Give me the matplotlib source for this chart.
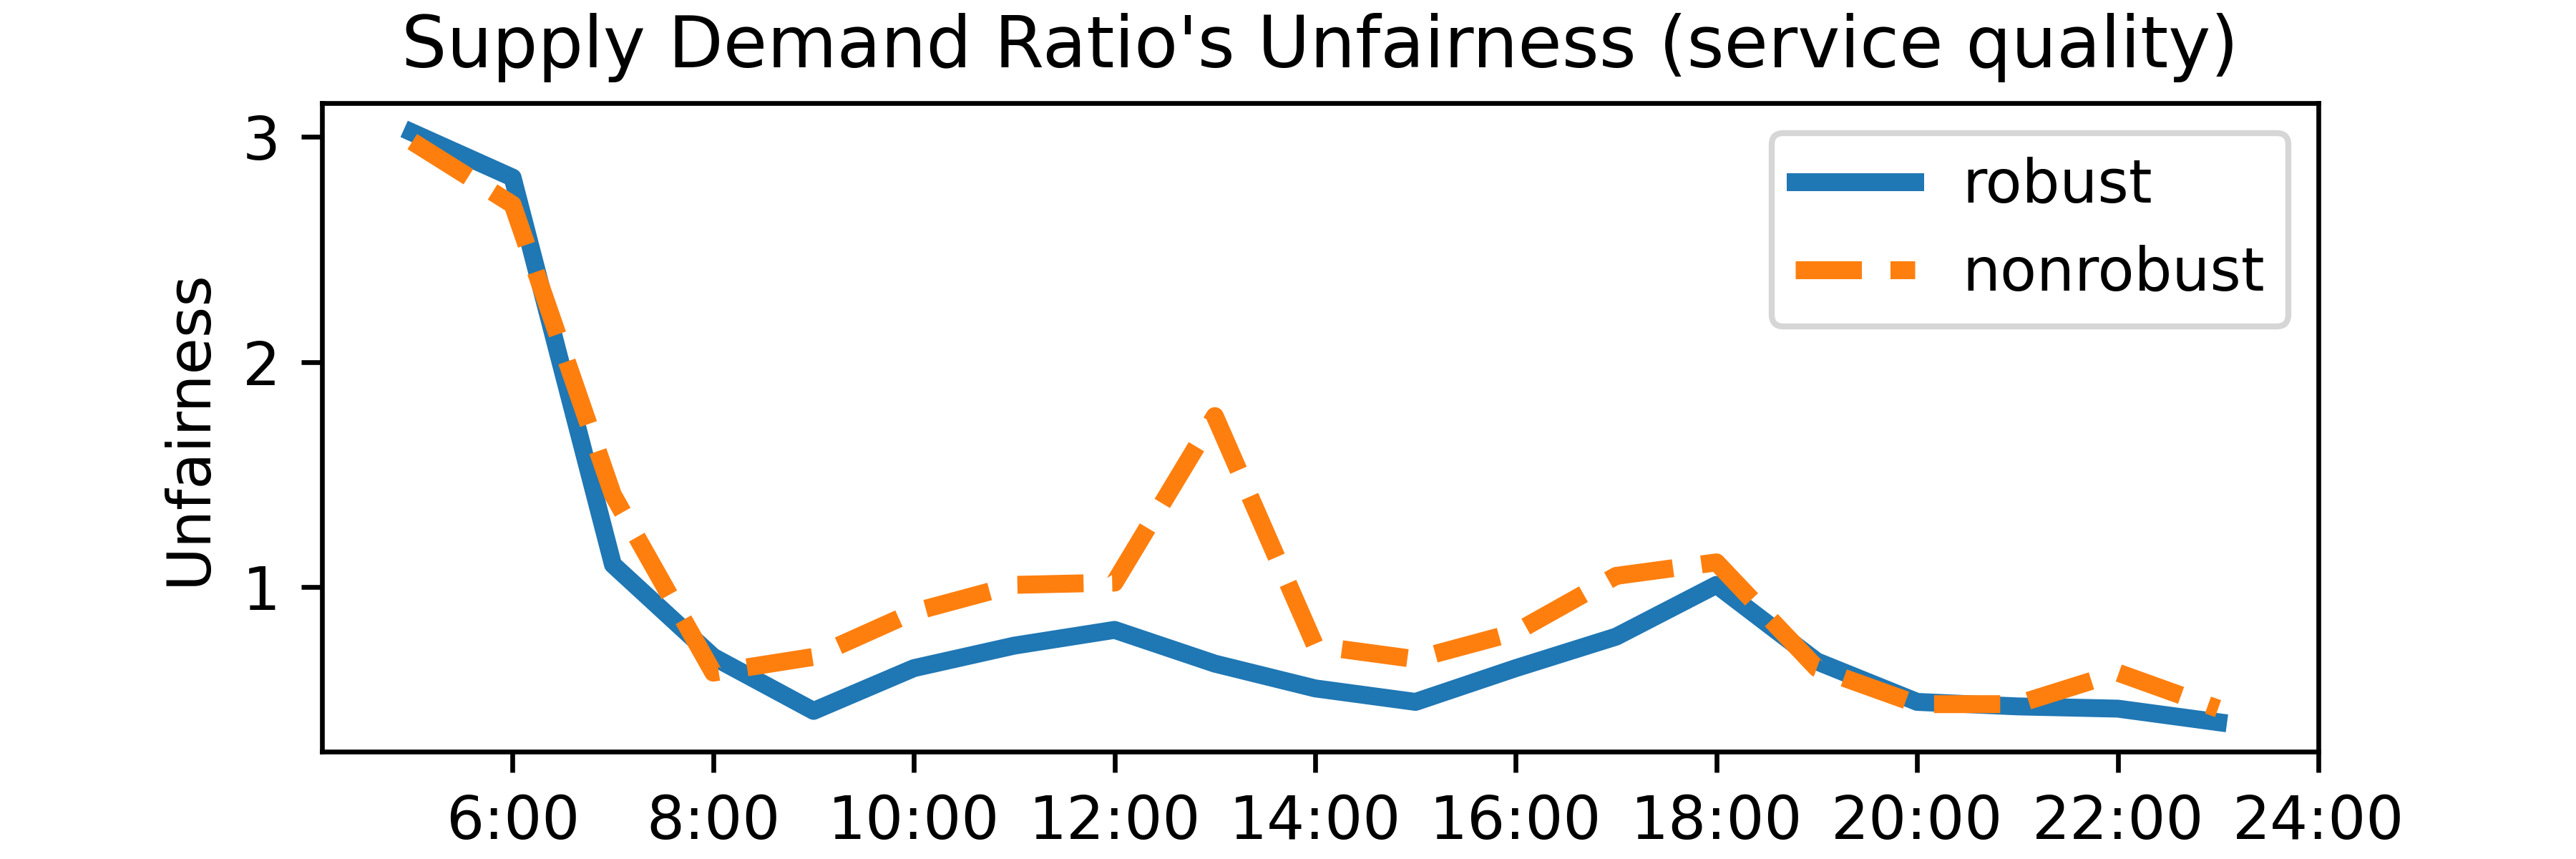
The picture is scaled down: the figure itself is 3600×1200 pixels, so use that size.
import matplotlib
matplotlib.use("Agg")
import matplotlib.pyplot as plt

hours = [5, 6, 7, 8, 9, 10, 11, 12, 13, 14, 15, 16, 17, 18, 19, 20, 21, 22, 23]
robust = [3.02, 2.82, 1.10, 0.69, 0.45, 0.64, 0.74, 0.81, 0.66, 0.55, 0.49,
          0.64, 0.78, 1.01, 0.67, 0.49, 0.47, 0.46, 0.40]
nonrobust = [2.98, 2.70, 1.41, 0.62, 0.69, 0.89, 1.01, 1.02, 1.76, 0.74, 0.68,
             0.80, 1.05, 1.11, 0.64, 0.48, 0.48, 0.62, 0.46]
tick_pos = [6, 8, 10, 12, 14, 16, 18, 20, 22, 24]
tick_labels = ["6:00", "8:00", "10:00", "12:00", "14:00", "16:00", "18:00",
               "20:00", "22:00", "24:00"]

fig, ax = plt.subplots(figsize=(6, 2))
fig.subplots_adjust(left=0.125, right=0.9, top=0.88, bottom=0.125)
ax.plot(hours, robust, linewidth=3, label="robust")
ax.plot(hours, nonrobust, linewidth=3, linestyle="--", label="nonrobust")
ax.set_xticks(tick_pos)
ax.set_xticklabels(tick_labels)
ax.set_ylabel("Unfairness")
ax.set_title("Supply Demand Ratio's Unfairness (service quality)")
ax.legend(loc="upper right")
fig.savefig("out.png", dpi=600)
